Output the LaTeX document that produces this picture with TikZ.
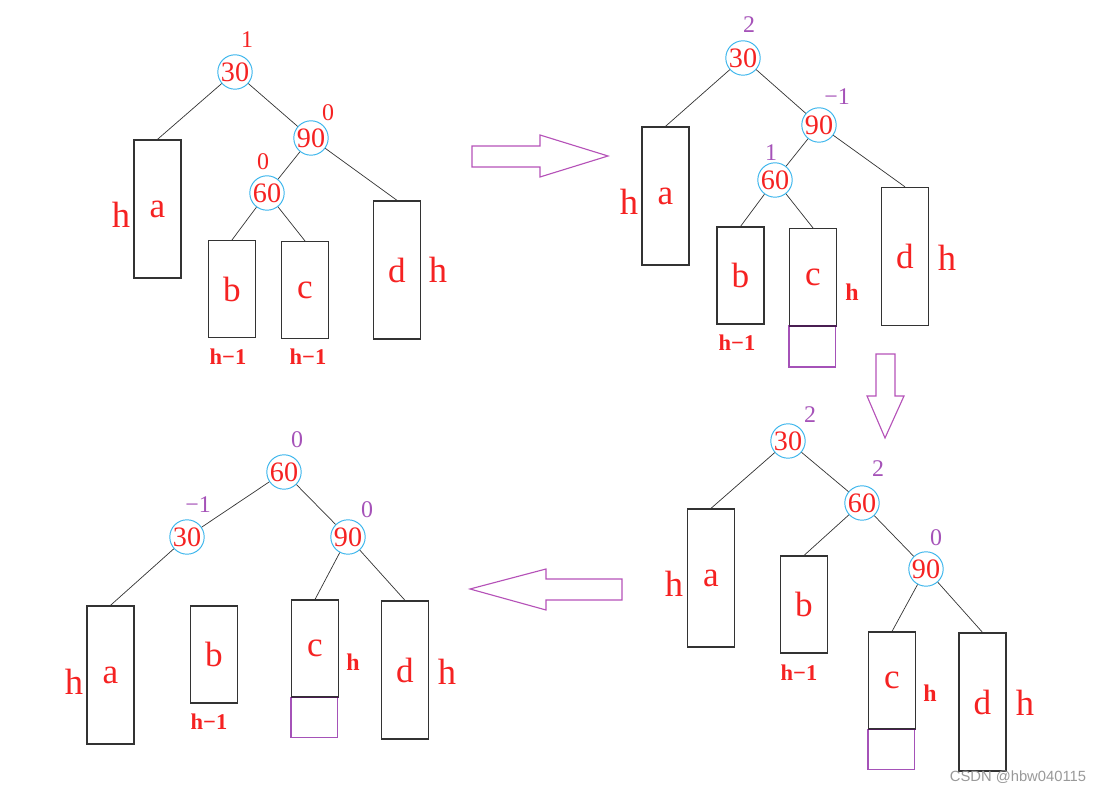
\documentclass[tikz,border=0pt]{standalone}
\usepackage{fontspec}
\setmainfont{Liberation Serif}
\newfontfamily\marksans{Liberation Sans}
\definecolor{numred}{HTML}{F52222}
\definecolor{bfpurple}{HTML}{A552B8}
\definecolor{ringblue}{HTML}{3DB6EC}
\definecolor{boxgray}{HTML}{333333}
\definecolor{arrowpurple}{HTML}{B552B8}
\definecolor{seamviolet}{HTML}{4A1E52}
\begin{document}
\begin{tikzpicture}[x=0.025cm, y=-0.025cm,
    key/.style={circle, draw=ringblue, line width=0.7pt, inner sep=0pt, minimum size=0.86cm,
      text=numred, font=\fontsize{20}{20}\selectfont},
    highbox/.style={draw=boxgray, line width=0.9pt, inner sep=0pt, minimum width=1.17cm,
      minimum height=3.45cm, text=numred, font=\fontsize{25}{25}\selectfont},
    lowbox/.style={highbox, minimum height=2.42cm},
    extbox/.style={draw=bfpurple, line width=0.8pt},
    hbig/.style={text=numred, font=\fontsize{26}{26}\selectfont},
    hsmall/.style={text=numred, font=\bfseries\fontsize{17}{17}\selectfont},
    hless/.style={text=numred, font=\bfseries\fontsize{16}{16}\selectfont},
    bal/.style={text=bfpurple, font=\fontsize{17}{17}\selectfont},
    fat/.style={draw=arrowpurple, line width=0.8pt},
    every edge/.style={draw=boxgray, line width=0.5pt}]
  \useasboundingbox (0,0) rectangle (1101,793);

  % before insertion
  \node[highbox] (xa) at (157.5,209) {a};
  \node[lowbox] (xb) at (232,289) {b};
  \node[lowbox] (xc) at (305,290) {c};
  \node[highbox] (xd) at (397,270) {d};
  \node[key] (x60) at (267,193) {60} edge (xb.north) edge (xc.north);
  \node[key] (x90) at (311,138) {90} edge (x60) edge (xd.north);
  \node[key] (x30) at (235,72) {30} edge (xa.north) edge (x90);
  \node[bal, text=numred] at (247,40) {1};
  \node[bal, text=numred] at (328,113) {0};
  \node[bal, text=numred] at (263,162) {0};
  \node[hbig] at (121,215) {h};
  \node[hbig] at (438,270) {h};
  \node[hless] at (228,357) {h−1};
  \node[hless] at (308,357) {h−1};

  \draw[fat] (472,146) -- (540,146) -- (540,135) -- (608,156) -- (540,177) -- (540,167) -- (472,167) -- cycle;

  % after insertion into c
  \node[highbox] (ya) at (665.5,196) {a};
  \node[lowbox] (yb) at (740.5,275.5) {b};
  \node[lowbox] (yc) at (813,277) {c};
  \node[highbox] (yd) at (905,256.5) {d};
  \draw[extbox] (yc.south west) rectangle ++(46.8,41);
  \draw[seamviolet, line width=1.2pt] (yc.south west) -- (yc.south east);
  \node[key] (y60) at (775,180) {60} edge (yb.north) edge (yc.north);
  \node[key] (y90) at (819,125) {90} edge (y60) edge (yd.north);
  \node[key] (y30) at (743,58) {30} edge (ya.north) edge (y90);
  \node[bal] at (749,25) {2};
  \node[bal] at (837,97) {−1};
  \node[bal] at (771,153) {1};
  \node[hbig] at (629,202) {h};
  \node[hsmall] at (852,292) {h};
  \node[hbig] at (947,258) {h};
  \node[hless] at (737,343) {h−1};

  \draw[fat] (876,354) -- (895,354) -- (895,396) -- (904,396) -- (885,438) -- (867,396) -- (876,396) -- cycle;

  % after right rotation at 90
  \node[highbox] (za) at (711,578) {a};
  \node[lowbox] (zb) at (804,604.5) {b};
  \node[lowbox] (zc) at (892,680.5) {c};
  \node[highbox] (zd) at (982.5,702) {d};
  \draw[extbox] (zc.south west) rectangle ++(46.8,40);
  \draw[seamviolet, line width=1.2pt] (zc.south west) -- (zc.south east);
  \node[key] (z90) at (926,569) {90} edge (zc.north) edge (zd.north);
  \node[key] (z60) at (862,503) {60} edge (zb.north) edge (z90);
  \node[key] (z30) at (788,441) {30} edge (za.north) edge (z60);
  \node[bal] at (810,415) {2};
  \node[bal] at (878,469) {2};
  \node[bal] at (936,538) {0};
  \node[hbig] at (674,584) {h};
  \node[hless] at (799,673) {h−1};
  \node[hsmall] at (930,693) {h};
  \node[hbig] at (1025,703) {h};

  \draw[fat] (622,579) -- (546,579) -- (546,569) -- (470,589) -- (546,610) -- (546,600) -- (622,600) -- cycle;

  % after left rotation at 30
  \node[highbox] (wa) at (110.5,675) {a};
  \node[lowbox] (wb) at (214,654.5) {b};
  \node[lowbox] (wc) at (315,648.5) {c};
  \node[highbox] (wd) at (405,670) {d};
  \draw[extbox] (wc.south west) rectangle ++(46.8,40);
  \draw[seamviolet, line width=1.2pt] (wc.south west) -- (wc.south east);
  \node[key] (w30) at (187,537) {30} edge (wa.north);
  \node[key] (w90) at (348,537) {90} edge (wc.north) edge (wd.north);
  \node[key] (w60) at (284,472) {60} edge (w30) edge (w90);
  \node[bal] at (297,440) {0};
  \node[bal] at (198,505) {−1};
  \node[bal] at (367,510) {0};
  \node[hbig] at (74,682) {h};
  \node[hless] at (209,722) {h−1};
  \node[hsmall] at (353,662) {h};
  \node[hbig] at (447,672) {h};

  \node[text=black!40, font=\marksans\fontsize{10.5}{10.5}\selectfont] (mark) at (1018,777) {CSDN @hbw040115};
\end{tikzpicture}
\end{document}
